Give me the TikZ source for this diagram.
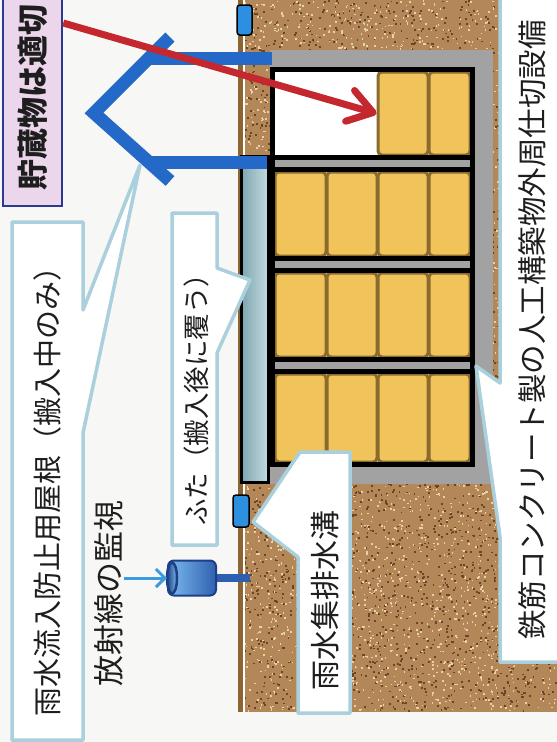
\documentclass[tikz,border=0pt]{standalone}
\usepackage{fontspec}
\newfontfamily\jp{Noto Sans CJK JP}
\usetikzlibrary{arrows.meta}

\definecolor{paper}{HTML}{F7F7F5}
\definecolor{ink}{HTML}{1E1E1E}
\definecolor{soil}{HTML}{B48758}
\definecolor{soildk}{HTML}{6A4526}
\definecolor{soillt}{HTML}{EAD0A8}
\definecolor{ground}{HTML}{8D6532}
\definecolor{concrete}{HTML}{A2A2A2}
\definecolor{drumfill}{HTML}{F0C45A}
\definecolor{drumedge}{HTML}{8B6A2E}
\definecolor{roofblue}{HTML}{2468C8}
\definecolor{drainblue}{HTML}{2D8FE0}
\definecolor{lidlt}{HTML}{C4DCE0}
\definecolor{liddk}{HTML}{7FA6B0}
\definecolor{callout}{HTML}{A9D0DC}
\definecolor{arrowred}{HTML}{C4282E}
\definecolor{skyblue}{HTML}{3A9BE0}
\definecolor{navy}{HTML}{2B3990}
\definecolor{lavender}{HTML}{ECD6EC}
\definecolor{detbody}{HTML}{2F5FB0}
\definecolor{detend}{HTML}{7CBCEE}
\definecolor{detline}{HTML}{1D3F85}

\begin{document}
\begin{tikzpicture}[x=1pt,y=-1pt,
    drum/.style={draw=drumedge,fill=drumfill,line width=3pt,rounded corners=4pt,inner sep=0pt},
    drain/.style={draw=black,fill=drainblue,line width=1.5pt,rounded corners=3pt,inner sep=0pt},
    roof/.style={draw=roofblue,line width=13pt,line join=miter},
    note/.style={draw=callout,fill=white,line width=3.5pt,line join=round},
    txt/.style={rotate=90,inner sep=0pt,text=ink,font=\jp\fontsize{#1}{#1}\selectfont}]

  \useasboundingbox[fill=paper] (0,0) rectangle (557,742);

  % ground with speckles
  \fill[soil] (243,0) rectangle (557,712);
  \pgfmathsetseed{12}
  \foreach \i in {1,...,4000} {
    \fill[soildk] ({243+312*rnd},{710*rnd}) rectangle +(1.8,1.8);
    \fill[soillt] ({243+312*rnd},{710*rnd}) rectangle +(1.6,1.6);
  }
  \draw[ground,line width=5pt] (240.5,0) -- (240.5,712);
  \draw[white,line width=1.5pt] (243.8,0) -- (243.8,712);

  % concrete pit and the stored drums
  \fill[concrete] (270,50) rectangle (493,484);
  \fill[white] (275,72) rectangle (470,462);
  \foreach \y/\h [count=\r from 2] in {214/84,315/84,418/88}
    \foreach \x/\w [count=\c] in {300.5/51,352/50,403/50,449.5/41}
      \node[drum,minimum width=\w pt,minimum height=\h pt] (d\r\c) at (\x,\y) {};
  \node[drum,minimum width=50pt,minimum height=83pt] (d13) at (403,113.5) {};
  \node[drum,minimum width=41pt,minimum height=83pt] (d14) at (449.5,113.5) {};
  \foreach \y in {155,256,357} {
    \fill[black] (270,\y) rectangle (475,\y+17);
    \fill[concrete] (275,\y+5) rectangle (470,\y+12);
  }
  \draw[line width=5pt] (272.5,69.5) rectangle (472.5,464);

  % lid
  \draw[line width=3pt,left color=liddk,right color=lidlt] (241.5,156.5) rectangle (268.5,482.5);

  % roof
  \draw[roof] (170,37) -- (94,113) -- (170,181);
  \draw[roof] (148,58) -- (272,58);
  \draw[roof] (150,162) -- (267,162);

  % drains
  \node[drain,minimum width=15pt,minimum height=30pt] (drainA) at (244.5,20) {};
  \node[drain,minimum width=16pt,minimum height=32pt] (drainB) at (241,511) {};

  % detector
  \coordinate (mount) at (250,578);
  \draw[detbody,line width=8pt] (205,578) -- (mount);
  \node[draw=detline,line width=2pt,left color=detend,right color=detbody,rounded corners=6pt,
    minimum width=48pt,minimum height=35pt,inner sep=0pt] (det) at (192,578) {};
  \draw[detline,line width=2.5pt,left color=detline,right color=detend] ([xshift=5pt]det.west) ellipse (5 and 15.5);

  % callouts
  \draw[note] (12,222) -- (83,222) -- (83,310) -- (140,165) -- (83,433) -- (83,740) -- (12,740) -- cycle;
  \draw[note] (172,213) -- (217,213) -- (217,268) -- (250,280) -- (217,353) -- (217,545) -- (172,545) -- cycle;
  \draw[note] (300,452) -- (350,452) -- (350,713) -- (298,713) -- (298,557) -- (253,522) -- cycle;
  \draw[note] (500,-5) -- (562,-5) -- (562,662) -- (500,662) -- (500,537) -- (476,366) -- (500,383) -- cycle;

  \node[txt=29] (roofnote) at (47,484) {雨水流入防止用屋根（搬入中のみ）};
  \node[txt=26.5] (lidnote) at (196,393) {ふた（搬入後に覆う）};
  \node[txt=30] (drainnote) at (325,600) {雨水集排水溝};
  \node[txt=29.5] (wallnote) at (532,330) {鉄筋コンクリート製の人工構築物外周仕切設備};
  \node[txt=31] (rad) at (109,593) {放射線の監視};

  \node[txt=31,draw=navy,fill=lavender,line width=2.5pt,minimum width=218pt,minimum height=59pt,
    font=\jp\bfseries\fontsize{31}{31}\selectfont] (store) at (32.5,97) {貯蔵物は適切};

  % arrows
  \draw[arrowred,line width=7pt,-{Straight Barb[round,length=24pt,width=32pt]}]
    ([yshift=74pt]store.south) -- (d13.west);
  \draw[skyblue,line width=3pt,-{Straight Barb[length=9pt,width=18pt]}]
    (rad.south |- det.west) -- (det.west);

\end{tikzpicture}
\end{document}
